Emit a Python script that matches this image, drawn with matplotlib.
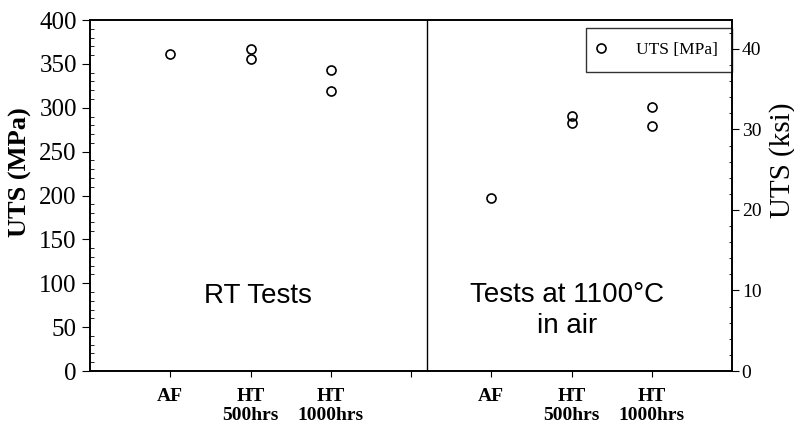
import numpy as np
import matplotlib
matplotlib.use('Agg')
import matplotlib.pyplot as plt
from matplotlib.ticker import MultipleLocator

# data (MPa)
categories = ['AF', 'HT\n500hrs', 'HT\n1000hrs']
rt_pos = [1, 2, 3]
hot_pos = [5, 6, 7]
rt_uts = [[361], [366.6, 355.2], [343, 318.7]]
hot_uts = [[197.5], [290.6, 282.3], [301, 279]]
ksi_ticks = [0, 10, 20, 30, 40]

serif = 'Liberation Serif'
sans = 'Liberation Sans'

fig = plt.figure(figsize=(7.94, 4.23), dpi=100)
ax = fig.add_axes([90/794, 52/423, 642/794, 351/423])

mk = dict(marker='o', ms=6.5, mfc='none', mec='black', mew=1.2, ls='none')
for p, vals in zip(rt_pos, rt_uts):
    ax.plot([p]*len(vals), vals, **mk)
first = True
for p, vals in zip(hot_pos, hot_uts):
    ax.plot([p]*len(vals), vals, label='UTS [MPa]' if first else None, **mk)
    first = False

# divider between RT and high temperature tests
ax.axvline(4.2, color='black', lw=1)

ax.set_xlim(0, 8)
ax.set_ylim(0, 400)
ax.set_xticks([1, 2, 3, 4, 5, 6, 7])
ax.set_xticklabels(categories + [''] + categories, fontfamily=serif,
                   fontweight='bold', fontsize=14)
for lab in ax.get_xticklabels():
    lab.set_linespacing(1.15)
ax.tick_params(axis='x', direction='out', length=4, pad=8)
ax.yaxis.set_major_locator(MultipleLocator(50))
ax.yaxis.set_minor_locator(MultipleLocator(10))
ax.tick_params(axis='y', which='major', direction='out', length=6, labelsize=18)
ax.tick_params(axis='y', which='minor', direction='in', length=3)
for lab in ax.get_yticklabels():
    lab.set_fontfamily(serif)
ax.set_ylabel('UTS (MPa)', fontfamily=serif, fontweight='bold', fontsize=19)
ax.yaxis.set_label_coords(-0.09, 0.567)
for s in ax.spines.values():
    s.set_linewidth(1.2)

ax.text(2.09, 86, 'RT Tests', fontfamily=sans, fontsize=20, ha='center', va='center')
ax.text(5.95, 69, 'Tests at 1100°C\nin air', fontfamily=sans, fontsize=20,
        ha='center', va='center', linespacing=1.25)

leg = ax.legend(loc='upper right', bbox_to_anchor=(1.0, 0.977), frameon=True,
                fancybox=False, edgecolor='black', borderaxespad=0,
                prop={'family': serif, 'size': 12.5}, handletextpad=2.0,
                borderpad=0.8, handlelength=0.1)
leg.get_frame().set_linewidth(1.0)

# right axis in ksi
ax2 = ax.twinx()
ax2.set_ylim(0, 43.6)
ax2.set_yticks(ksi_ticks)
ax2.yaxis.set_minor_locator(MultipleLocator(2))
ax2.tick_params(axis='y', which='major', direction='out', length=5, labelsize=14, pad=2)
ax2.tick_params(axis='y', which='minor', direction='in', length=2.5)
for lab in ax2.get_yticklabels():
    lab.set_fontfamily(serif)
ax2.set_ylabel('UTS (ksi)', fontfamily=serif, fontsize=21)
ax2.yaxis.set_label_coords(1.057, 0.6)
for s in ax2.spines.values():
    s.set_linewidth(1.2)

plt.savefig('out.png', dpi=100)
